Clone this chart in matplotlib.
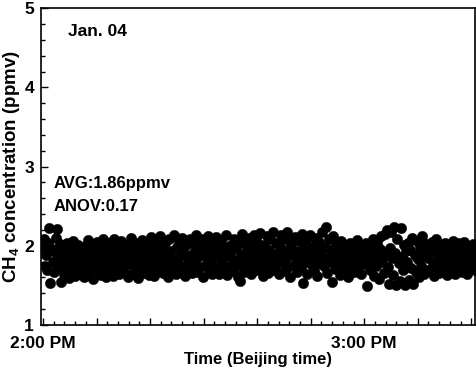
import numpy as np
import matplotlib
matplotlib.use("Agg")
import matplotlib.pyplot as plt
from matplotlib.ticker import FixedLocator, MultipleLocator

OUT = "out.png"

plt.rcParams["font.family"] = ["Liberation Sans", "DejaVu Sans"]
plt.rcParams["font.weight"] = "bold"
plt.rcParams["mathtext.fontset"] = "custom"
plt.rcParams["mathtext.rm"] = "Liberation Sans:bold"
plt.rcParams["mathtext.default"] = "rm"

START_MIN = 0.0        # 2:00 PM
STEP_MIN = 0.2         # one reading every 12 s

# CH4 readings (ppmv), 4 minutes per row
ch4 = [
    1.98, 2.08, 1.74, 1.88, 1.70, 2.03, 2.22, 1.53, 1.96, 1.80, 1.67, 1.92, 2.10, 2.21, 1.86, 1.72, 2.02, 1.54, 1.78, 1.95,
    1.64, 1.90, 2.04, 1.76, 1.59, 1.85, 1.97, 1.70, 2.06, 1.82, 1.62, 1.93, 1.78, 2.01, 1.68, 1.87, 1.74, 1.99, 1.60, 1.84,
    1.95, 1.72, 2.07, 1.66, 1.89, 1.81, 2.02, 1.58, 1.91, 1.76, 2.05, 1.69, 1.86, 1.98, 1.63, 1.83, 2.09, 1.73, 1.94, 1.61,
    1.88, 2.03, 1.67, 1.79, 1.96, 1.62, 2.08, 1.85, 1.71, 1.99, 1.77, 1.64, 1.92, 2.06, 1.82, 1.68, 1.97, 1.75, 2.01, 1.60,
    1.90, 1.78, 2.10, 1.65, 1.87, 1.96, 1.72, 2.04, 1.81, 1.59, 1.93, 1.70, 2.07, 1.84, 1.66, 1.99, 1.76, 1.89, 2.02, 1.63,
    1.85, 2.11, 1.74, 1.95, 1.62, 1.88, 2.05, 1.79, 1.69, 2.12, 1.83, 1.97, 1.66, 1.91, 2.03, 1.73, 1.86, 1.60, 2.08, 1.80,
    1.94, 1.70, 2.13, 1.82, 1.64, 1.98, 1.77, 2.06, 1.87, 1.68, 2.10, 1.92, 1.75, 1.62, 2.01, 1.85, 1.71, 2.09, 1.89, 1.66,
    2.04, 1.79, 1.93, 2.14, 1.67, 1.86, 1.99, 1.73, 2.08, 1.61, 1.90, 2.02, 1.76, 1.84, 2.12, 1.69, 1.96, 1.81, 1.64, 2.05,
    1.88, 1.72, 2.11, 1.95, 1.65, 1.83, 2.07, 1.78, 1.98, 1.70, 1.90, 2.13, 1.63, 1.87, 2.00, 1.75, 1.93, 1.68, 2.09, 1.82,
    1.97, 1.74, 1.60, 2.06, 1.55, 1.89, 2.15, 1.80, 1.67, 2.02, 1.92, 1.71, 2.10, 1.85, 1.64, 1.99, 1.78, 2.14, 1.88, 1.69,
    2.05, 1.83, 1.94, 2.16, 1.72, 1.62, 2.01, 1.87, 1.77, 2.12, 1.66, 1.95, 2.08, 1.81, 1.70, 2.17, 1.90, 1.75, 2.03, 1.85,
    1.64, 1.98, 2.14, 1.79, 1.91, 1.68, 2.09, 1.84, 2.18, 1.73, 1.96, 1.61, 2.04, 1.88, 1.76, 2.11, 1.93, 1.67, 1.82, 2.06,
    1.87, 1.72, 2.15, 1.53, 1.97, 1.80, 2.07, 1.65, 1.91, 2.13, 1.77, 1.86, 1.99, 1.70, 2.10, 1.83, 1.62, 1.94, 2.05, 1.78,
    1.90, 2.18, 1.74, 1.98, 2.24, 1.66, 1.85, 2.08, 1.79, 1.95, 1.54, 2.12, 1.88, 1.71, 2.02, 1.83, 1.93, 1.63, 2.06, 1.76,
    1.86, 2.01, 1.70, 1.92, 1.81, 1.60, 1.96, 2.04, 1.75, 1.88, 1.67, 1.99, 1.84, 2.07, 1.73, 1.91, 1.79, 1.64, 2.00, 1.85,
    1.94, 1.77, 2.03, 1.49, 1.87, 1.69, 1.98, 1.82, 2.09, 1.62, 1.90, 1.74, 2.05, 1.85, 1.58, 1.96, 2.12, 1.80, 1.66, 2.15,
    1.88, 2.20, 1.73, 1.52, 1.97, 2.18, 1.84, 1.63, 2.24, 1.91, 1.50, 2.08, 1.78, 1.55, 2.22, 1.86, 1.69, 2.01, 1.51, 1.93,
    1.80, 2.04, 1.57, 1.95, 1.72, 2.10, 1.52, 1.89, 1.67, 2.06, 1.83, 1.60, 1.98, 1.75, 2.12, 1.87, 1.64, 1.92, 2.02, 1.70,
    1.85, 1.97, 1.68, 2.05, 1.78, 1.62, 1.93, 2.08, 1.74, 1.88, 1.66, 2.01, 1.81, 1.95, 1.71, 2.04, 1.86, 1.63, 1.92, 1.77,
    1.99, 1.69, 1.87, 2.06, 1.75, 1.64, 1.94, 1.82, 2.03, 1.72, 1.90, 1.67, 1.97, 2.05, 1.79, 1.86, 1.65, 2.00, 1.84, 1.73,
    1.92, 1.80, 2.02, 1.70, 1.88,
]
minutes = START_MIN + STEP_MIN * np.arange(len(ch4))

x_ticks = [0, 10, 20, 30, 40, 50, 60, 70, 80]
x_labels = ["2:00 PM", "", "", "", "", "", "3:00 PM", "", ""]

date_label = "Jan. 04"
avg_label = "AVG:1.86ppmv"
anov_label = "ANOV:0.17"

fig = plt.figure(figsize=(4.77, 3.71), dpi=100)
ax = fig.add_axes([0.086, 0.124, 0.9105, 0.854])

ax.scatter(minutes, ch4, s=56, c="black", edgecolors="black", linewidths=0.3, zorder=3)

ax.set_xlim(-0.37, 80.75)
ax.set_ylim(1, 5)

ax.xaxis.set_major_locator(FixedLocator(x_ticks))
ax.set_xticklabels(x_labels)
ax.xaxis.set_minor_locator(MultipleLocator(2))
ax.yaxis.set_major_locator(MultipleLocator(1))
ax.yaxis.set_minor_locator(MultipleLocator(0.2))

ax.tick_params(which="both", direction="in", top=False, right=False, width=1.0,
               labelsize=12.5)
ax.tick_params(which="major", length=5)
ax.tick_params(which="minor", length=3)
ax.tick_params(axis="y", pad=5)
ax.tick_params(axis="x", pad=8)
for sp in ax.spines.values():
    sp.set_linewidth(1.2)

ax.set_xlabel("Time (Beijing time)", fontsize=12, fontweight="bold", labelpad=1)
ax.set_ylabel("CH$_4$ concentration (ppmv)", fontsize=13.5, fontweight="bold", labelpad=2)

ax.text(0.062, 0.927, date_label, transform=ax.transAxes, fontsize=12.5,
        fontweight="bold", va="center", ha="left")
ax.text(0.030, 0.448, avg_label, transform=ax.transAxes, fontsize=12,
        fontweight="bold", va="center", ha="left")
ax.text(0.030, 0.375, anov_label, transform=ax.transAxes, fontsize=12,
        fontweight="bold", va="center", ha="left")

fig.savefig(OUT, dpi=100)
